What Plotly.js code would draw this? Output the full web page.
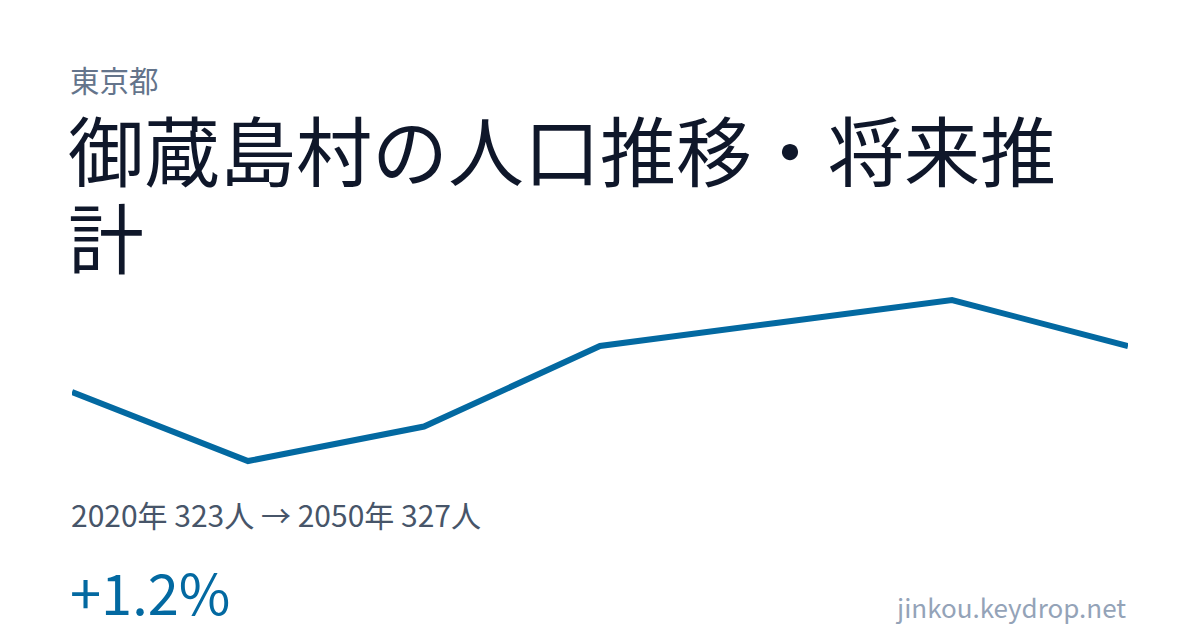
<!DOCTYPE html>
<html>
<head>
<meta charset="utf-8">
<script src="https://cdn.plot.ly/plotly-3.0.1.min.js"></script>
<style>
  html, body { margin: 0; padding: 0; background: #ffffff; }
  #chart { width: 1200px; height: 630px; }
</style>
</head>
<body>
<div id="chart"></div>
<script>
// population by year (人)
const years = [2020, 2025, 2030, 2035, 2040, 2045, 2050];
const population = [323, 317, 320, 327, 329, 331, 327];

const prefName = '東京都';
const titleLine1 = '御蔵島村の人口推移・将来推';
const titleLine2 = '計';
const summary = '2020年 323人 → 2050年 327人';
const change = '+1.2%';
const site = 'jinkou.keydrop.net';

const FONT = '"Noto Sans CJK JP", "Noto Sans", sans-serif';

// plot area spans pixels 280..480 vertically, so paper y = (480 - px) / 200
function py(px) { return (480 - px) / 200; }

function label(text, x, y, size, color, anchor) {
    return {
        text: text, xref: 'paper', yref: 'paper',
        x: x, y: y, xanchor: anchor || 'left', yanchor: 'middle',
        showarrow: false, font: { family: FONT, size: size, color: color }
    };
}

const trace = {
    x: years,
    y: population,
    type: 'scatter',
    mode: 'lines',
    line: { color: '#0369a1', width: 6 },
    hoverinfo: 'skip'
};

const layout = {
    width: 1200,
    height: 630,
    margin: { l: 72, r: 72, t: 280, b: 150 },
    paper_bgcolor: '#ffffff',
    plot_bgcolor: '#ffffff',
    showlegend: false,
    xaxis: { range: [2020, 2050], visible: false, fixedrange: true },
    yaxis: { range: [315.35, 332.74], visible: false, fixedrange: true },
    annotations: [
        label(prefName, -0.004, py(79), 29.5, '#64748b'),
        label(titleLine1, -0.006, py(148), 76, '#0f172a'),
        label(titleLine2, -0.006, py(235), 76, '#0f172a'),
        label(summary, -0.003, py(514), 30, '#475569'),
        label(change, -0.004, py(590), 56, '#0369a1'),
        label(site, 1.0, py(606), 26, '#94a3b8', 'right')
    ]
};

Plotly.newPlot('chart', [trace], layout, { staticPlot: true, displayModeBar: false });
</script>
</body>
</html>
